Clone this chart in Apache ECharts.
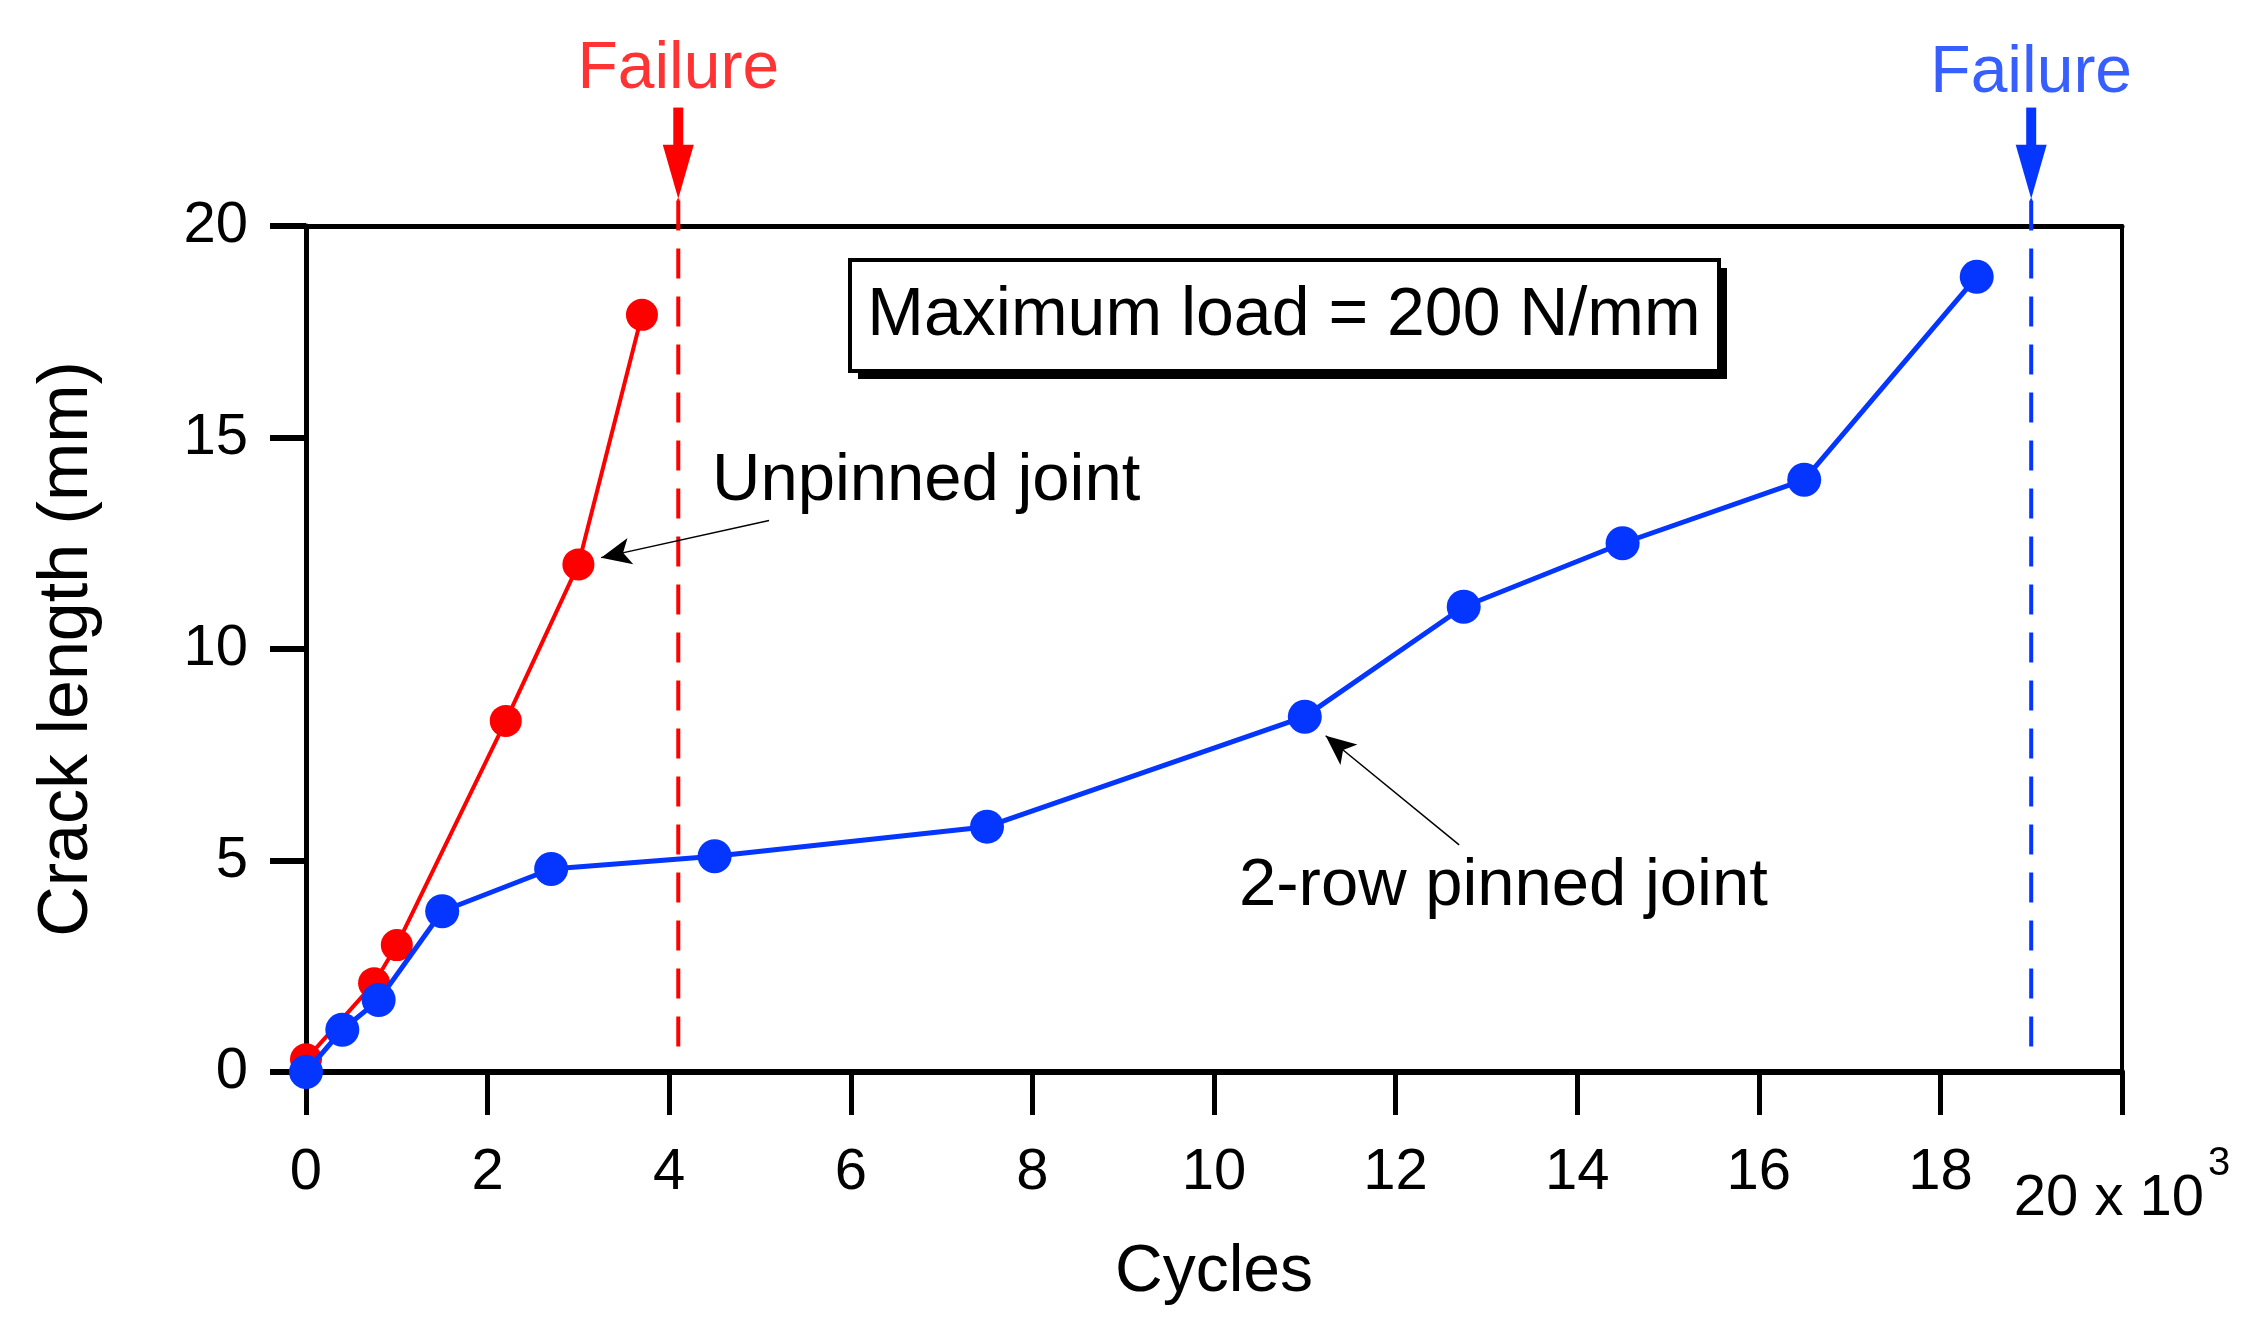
<!DOCTYPE html>
<html>
<head>
<meta charset="utf-8">
<script src="https://cdn.jsdelivr.net/npm/echarts@6/dist/echarts.min.js"></script>
<style>html,body{margin:0;padding:0;background:#fff}#c{width:2254px;height:1332px}</style>
</head>
<body>
<div id="c"></div>
<script>
// ---- data ----
const unpinnedCycles = [0, 0.75, 1.0, 2.2, 3.0, 3.7];
const unpinnedCrack  = [0.3, 2.1, 3.0, 8.3, 12.0, 17.9];
const pinnedCycles = [0, 0.4, 0.8, 1.5, 2.7, 4.5, 7.5, 11.0, 12.75, 14.5, 16.5, 18.4];
const pinnedCrack  = [0, 1.0, 1.7, 3.8, 4.8, 5.1, 5.8, 8.4, 11.0, 12.5, 14.0, 18.8];
const failureCycles = [4.1, 19.0];
const failureLabel = 'Failure';
const seriesNames = ['Unpinned joint', '2-row pinned joint'];
const boxText = 'Maximum load = 200 N/mm';
const xTitle = 'Cycles';
const yTitle = 'Crack length (mm)';
const xTickLast = '20 x 10';
const xTickExp = '3';

const RED = '#ff0000';
const BLUE = '#0536ff';
const FONT = "'Liberation Sans', Arial, sans-serif";

const chart = echarts.init(document.getElementById('c'));

function pairs(xs, ys) { return xs.map((x, i) => [x, ys[i]]); }

function failureSeries(x, color, labelDist) {
  return [
    {
      type: 'line', clip: false, silent: true, z: 1,
      data: [[x, 20.6], [x, 0.35]],
      symbol: 'none',
      lineStyle: { color: color, width: 4, type: [30, 18] }
    },
    {
      type: 'line', clip: false, silent: true, z: 5,
      data: [
        { value: [x, 22.8], symbol: 'none' },
        { value: [x, 21.28], symbol: 'triangle', symbolRotate: 180, symbolSize: [31, 54] }
      ],
      lineStyle: { color: color, width: 10 },
      itemStyle: { color: color }
    },
    {
      type: 'line', clip: false, silent: true, z: 5,
      data: [[x, 20.65], [x, 20.0]], symbol: 'none',
      lineStyle: { color: color, width: 2 }
    },
    {
      type: 'scatter', clip: false, silent: true, z: 6,
      data: [[x, 22.8]], symbol: 'circle', symbolSize: 1,
      itemStyle: { color: 'rgba(0,0,0,0)' },
      label: { show: true, position: 'top', distance: labelDist, formatter: failureLabel,
               color: color, fontSize: 66, fontFamily: FONT }
    }
  ];
}

const option = {
  backgroundColor: '#fff',
  animation: false,
  grid: { left: 306, right: 132, top: 226, bottom: 260, containLabel: false },
  xAxis: [
    {
      type: 'value', min: 0, max: 20, interval: 2,
      name: xTitle, nameLocation: 'middle', nameGap: 168,
      nameTextStyle: { fontSize: 66, fontFamily: FONT, color: '#000' },
      axisLine: { show: true, onZero: false, lineStyle: { color: '#000', width: 6 } },
      axisTick: { show: true, inside: false, length: 43, lineStyle: { color: '#000', width: 5 } },
      axisLabel: {
        margin: 72, fontSize: 58, fontFamily: FONT, color: '#000',
        formatter: function (v) { return v === 20 ? '{b|' + xTickLast + '}{s|' + xTickExp + '}' : String(v); },
        rich: {
          b: { fontSize: 58, fontFamily: FONT, color: '#000', padding: [26, 0, 0, 0], verticalAlign: 'bottom' },
          s: { fontSize: 40, fontFamily: FONT, color: '#000', verticalAlign: 'top', padding: [0, 0, 0, 4] }
        }
      },
      splitLine: { show: false }
    },
    {
      type: 'value', position: 'top', min: 0, max: 20,
      axisLine: { show: true, onZero: false, lineStyle: { color: '#000', width: 5 } },
      axisTick: { show: false }, axisLabel: { show: false }, splitLine: { show: false }
    }
  ],
  yAxis: [
    {
      type: 'value', min: 0, max: 20, interval: 5,
      name: yTitle, nameLocation: 'middle', nameGap: 203, nameRotate: 90,
      nameTextStyle: { fontSize: 70, fontFamily: FONT, color: '#000' },
      axisLine: { show: true, onZero: false, lineStyle: { color: '#000', width: 5 } },
      axisTick: { show: true, inside: false, length: 36, lineStyle: { color: '#000', width: 6 } },
      axisLabel: { margin: 58, fontSize: 58, fontFamily: FONT, color: '#000' },
      splitLine: { show: false }
    },
    {
      type: 'value', position: 'right', min: 0, max: 20,
      axisLine: { show: true, onZero: false, lineStyle: { color: '#000', width: 4 } },
      axisTick: { show: false }, axisLabel: { show: false }, splitLine: { show: false }
    }
  ],
  series: [
    ...failureSeries(failureCycles[0], RED, 4),
    ...failureSeries(failureCycles[1], BLUE, 0),
    {
      name: seriesNames[0], type: 'line', z: 3,
      data: pairs(unpinnedCycles, unpinnedCrack),
      symbol: 'circle', symbolSize: 32,
      lineStyle: { color: RED, width: 4 }, itemStyle: { color: RED },
      markLine: {
        silent: true, symbol: ['none', 'arrow'], symbolSize: [20, 30],
        label: { show: false },
        lineStyle: { color: '#000', width: 1.5, type: 'solid' },
        data: [[{ coord: [5.1, 13.04] }, { coord: [3.25, 12.16] }]]
      }
    },
    {
      name: seriesNames[1], type: 'line', z: 4,
      data: pairs(pinnedCycles, pinnedCrack),
      symbol: 'circle', symbolSize: 34,
      lineStyle: { color: BLUE, width: 5 }, itemStyle: { color: BLUE },
      markLine: {
        silent: true, symbol: ['none', 'arrow'], symbolSize: [20, 30],
        label: { show: false },
        lineStyle: { color: '#000', width: 1.5, type: 'solid' },
        data: [[{ coord: [12.7, 5.37] }, { coord: [11.23, 7.95] }]]
      }
    }
  ],
  graphic: [
    { type: 'rect', shape: { x: 858, y: 268, width: 869, height: 111 }, style: { fill: '#000' }, z: 10 },
    { type: 'rect', shape: { x: 850, y: 260, width: 869, height: 111 }, style: { fill: '#fff', stroke: '#000', lineWidth: 4 }, z: 11 },
    { type: 'text', x: 1284, y: 316, z: 12,
      style: { text: boxText, fontSize: 68, fontFamily: FONT, fill: '#000', textAlign: 'center', textVerticalAlign: 'middle' } },
    { type: 'text', x: 712, y: 482, z: 12,
      style: { text: seriesNames[0], fontSize: 67, fontFamily: FONT, fill: '#000', textAlign: 'left', textVerticalAlign: 'middle' } },
    { type: 'text', x: 1239, y: 887, z: 12,
      style: { text: seriesNames[1], fontSize: 67, fontFamily: FONT, fill: '#000', textAlign: 'left', textVerticalAlign: 'middle' } }
  ]
};
chart.setOption(option);
</script>
</body>
</html>
